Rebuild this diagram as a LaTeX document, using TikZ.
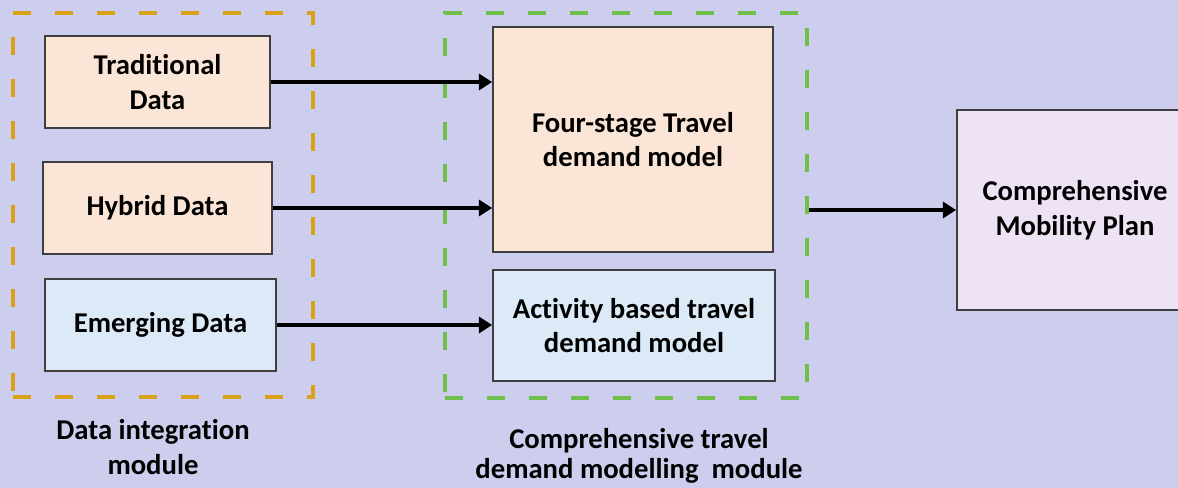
\documentclass[tikz,border=0pt]{standalone}
\usepackage{fontspec}
\setmainfont{Carlito}[RawFeature=-liga]
\usetikzlibrary{arrows.meta,calc}
\definecolor{bg}{HTML}{CDCEEE}
\definecolor{peach}{HTML}{FBE5D6}
\definecolor{ice}{HTML}{DCE9F6}
\definecolor{lilac}{HTML}{EEE2F5}
\definecolor{gold}{HTML}{D9A21B}
\definecolor{lime}{HTML}{6FC04B}
\definecolor{edge}{HTML}{3F3F3F}
\begin{document}
\begin{tikzpicture}[x=0.75pt,y=-0.75pt,
  box/.style={draw=edge, line width=1.2pt, align=center, inner sep=0pt,
    font=\fontsize{21.5pt}{26pt}\selectfont\bfseries},
  modbox/.style={draw=#1, line width=3pt, dash pattern=on 13.5pt off 18pt, inner sep=0pt},
  modlabel/.style={align=center, font=\fontsize{21.5pt}{#1}\selectfont\bfseries},
  flow/.style={draw=black, line width=2.8pt, -{Triangle[length=10pt,width=12pt]}}]
\fill[bg] (0,0) rectangle (1178,488);
\useasboundingbox (0,0) rectangle (1178,488);
% module frames
\node[modbox=gold, minimum width=225pt, minimum height=288pt] (dim) at (163,205) {};
\node[modbox=lime, line width=2.5pt, minimum width=271.5pt, minimum height=288.75pt] (ctm) at (626,205.5) {};
% data boxes
\node[box, fill=peach, minimum width=168.75pt, minimum height=69pt] (trad) at (157.5,82) {Traditional\\Data};
\node[box, fill=peach, minimum width=171.75pt, minimum height=69pt] (hyb) at (157.5,208) {Hybrid Data};
\node[box, fill=ice, minimum width=173.25pt, minimum height=69pt] (emg) at (160.5,325) {Emerging Data};
% model boxes
\node[box, fill=peach, minimum width=210pt, minimum height=168.75pt] (four) at (633,139.5) {Four-stage Travel\\demand model};
\node[box, fill=ice, minimum width=211.5pt, minimum height=83.25pt] (act) at (634,325.5) {Activity based travel\\demand model};
% plan box
\node[box, fill=lilac, minimum width=177pt, minimum height=150pt] (cmp) at (1075,210) {Comprehensive\\Mobility Plan};
% connectors
\draw[flow] (trad.east) -- (trad.east -| four.west);
\draw[flow] (hyb.east) -- (hyb.east -| four.west);
\draw[flow] (emg.east) -- (emg.east -| act.west);
\draw[flow] (ctm.east |- cmp.west) -- (cmp.west);
% labels
\node[modlabel=26pt] (diml) at (153,447) {Data integration\\module};
\node[modlabel=23pt] (ctml) at (639,456) {Comprehensive travel\\demand modelling\ \ module};
\end{tikzpicture}
\end{document}
